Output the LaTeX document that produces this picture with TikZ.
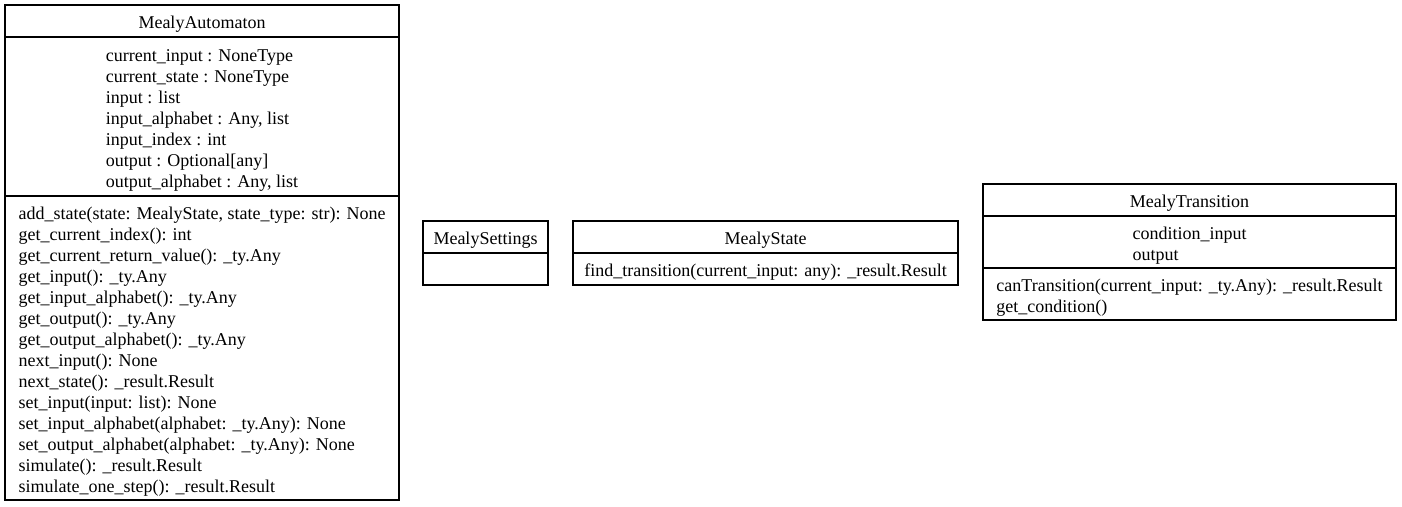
\documentclass[tikz,border=0pt]{standalone}
\usepackage{fontspec}
\setmainfont{Liberation Serif}
\usetikzlibrary{positioning}
\newcommand{\umlfont}{\fontsize{18pt}{21pt}\selectfont}
\newcommand{\topstrut}{\rule{0pt}{20pt}}
\tikzset{
  compart/.style={draw, line width=1.2pt, inner sep=0pt, outer sep=0pt, align=left, font=\umlfont},
  classtitle/.style={compart, minimum height=32pt, execute at begin node={\rule{0pt}{18pt}}},
}
\begin{document}
\begin{tikzpicture}[x=1pt,y=-1pt]
\useasboundingbox (0,0) rectangle (1402,506);

% MealyAutomaton
\node[classtitle, anchor=north west, minimum width=394pt] (autoname) at (5,5) {MealyAutomaton};
\node[compart, below=0pt of autoname, minimum width=394pt, minimum height=159pt] (autoattr) {\topstrut current\_input : NoneType\\
current\_state : NoneType\\
input : list\\
input\_alphabet : Any, list\\
input\_index : int\\
output : Optional[any]\\
output\_alphabet : Any, list};
\node[compart, below=0pt of autoattr, minimum width=394pt, minimum height=304pt] (autometh) {\topstrut add\_state(state: MealyState, state\_type: str): None\\
get\_current\_index(): int\\
get\_current\_return\_value(): \_ty.Any\\
get\_input(): \_ty.Any\\
get\_input\_alphabet(): \_ty.Any\\
get\_output(): \_ty.Any\\
get\_output\_alphabet(): \_ty.Any\\
next\_input(): None\\
next\_state(): \_result.Result\\
set\_input(input: list): None\\
set\_input\_alphabet(alphabet: \_ty.Any): None\\
set\_output\_alphabet(alphabet: \_ty.Any): None\\
simulate(): \_result.Result\\
simulate\_one\_step(): \_result.Result};

% MealySettings
\node[classtitle, anchor=north west, minimum width=125pt] (setname) at (423,221) {MealySettings};
\node[compart, below=0pt of setname, minimum width=125pt, minimum height=32pt] (setbody) {};

% MealyState
\node[classtitle, anchor=north west, minimum width=385pt] (statename) at (573,221) {MealyState};
\node[classtitle, below=0pt of statename, minimum width=385pt] (statemeth) {find\_transition(current\_input: any): \_result.Result};

% MealyTransition
\node[classtitle, anchor=north west, minimum width=413pt] (transname) at (983,184) {MealyTransition};
\node[compart, below=0pt of transname, minimum width=413pt, minimum height=52pt] (transattr) {\topstrut condition\_input\\
output};
\node[compart, below=0pt of transattr, minimum width=413pt, minimum height=52pt] (transmeth) {\topstrut canTransition(current\_input: \_ty.Any): \_result.Result\\
get\_condition()};
\end{tikzpicture}
\end{document}
